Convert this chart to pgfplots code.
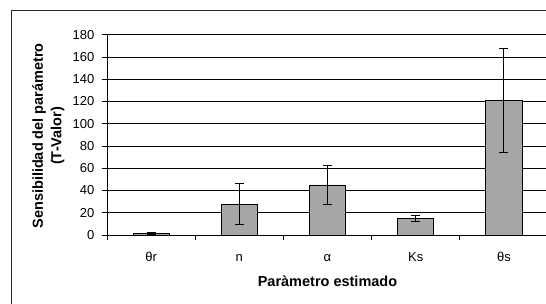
\documentclass[border=0pt]{standalone}
\usepackage{fontspec}
\setmainfont{Liberation Sans}
\usepackage{pgfplots}
\pgfplotsset{compat=1.18}
\definecolor{barg}{RGB}{166,166,166}
\begin{document}
\begin{tikzpicture}[x=1pt,y=1pt]
\useasboundingbox (0,0) rectangle (546,304);
\begin{scope}
\clip (0,0) rectangle (546,304);
\draw[line width=1pt, black!85] (11.5,-2) -- (11.5,293.5) -- (548,293.5);
\begin{axis}[
  at={(107pt,69pt)}, anchor=south west,
  width=441pt, height=200.3pt, scale only axis,
  xmin=-0.5, xmax=4.5, ymin=0, ymax=180,
  ytick={0,20,...,180},
  ymajorgrids, grid style={black, line width=0.7pt},
  axis x line*=bottom, axis y line*=left,
  axis line style={black, line width=0.8pt},
  tick align=outside,
  major tick length=5.5pt,
  tick style={black, line width=0.7pt},
  xtick={-0.5,0.5,1.5,2.5,3.5,4.5}, xticklabels={},
  extra x ticks={0,1,2,3,4},
  extra x tick labels={θr,n,α,Ks,θs},
  extra x tick style={major tick length=0pt, grid=none},
  xticklabel style={font=\fontsize{13}{15}\selectfont, anchor=base, yshift=-26.4pt},
  yticklabel style={font=\fontsize{13}{15}\selectfont, anchor=east, inner sep=0pt, xshift=-7pt},
  /pgf/number format/assume math mode=true,
  ylabel={Sensibilidad del parámetro\\(T-Valor)},
  ylabel style={font=\bfseries\fontsize{14.5}{18.5}\selectfont, align=center, at={(axis description cs:-0.133,0.495)}, anchor=center},
  xlabel={Paràmetro estimado},
  xlabel style={font=\bfseries\fontsize{14.5}{16.7}\selectfont, at={(axis description cs:0.5,-0.259)}, anchor=base},
  ybar, bar width=36pt,
]
\addplot[fill=barg, draw=black, line width=0.8pt,
  error bars/.cd, y dir=both, y explicit,
  error bar style={black, line width=0.8pt},
  error mark options={rotate=90, mark size=4.5pt, line width=0.8pt, black}]
coordinates {
  (0,1.3) +- (0,1.2)
  (1,27.7) +- (0,18.4)
  (2,45.0) +- (0,17.3)
  (3,15.0) +- (0,2.5)
  (4,121.0) +- (0,46.5)
};
\end{axis}
\end{scope}
\end{tikzpicture}
\end{document}
